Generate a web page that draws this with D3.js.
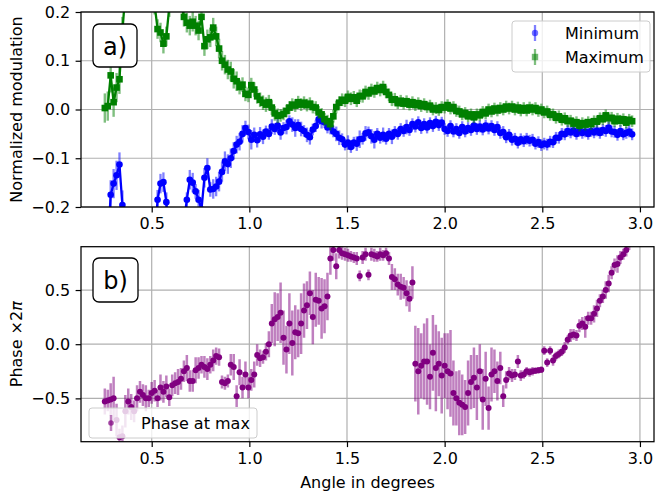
<!DOCTYPE html>
<html><head><meta charset="utf-8">
<script src="https://cdn.jsdelivr.net/npm/d3@7"></script>
<style>body{margin:0;background:#fff}svg{display:block}text{font-family:"DejaVu Sans",sans-serif}</style>
</head><body><svg id="c" width="655" height="494"></svg>
<script>
const angle = [0.26,0.275,0.29,0.305,0.32,0.335,0.35,0.365,0.38,0.395,
0.41,0.425,0.44,0.455,0.47,0.485,0.5,0.515,0.53,0.545,
0.56,0.575,0.59,0.605,0.62,0.635,0.65,0.665,0.68,0.695,
0.71,0.725,0.74,0.755,0.77,0.785,0.8,0.815,0.83,0.845,
0.86,0.875,0.89,0.905,0.92,0.935,0.95,0.965,0.98,0.995,
1.01,1.025,1.04,1.055,1.07,1.085,1.1,1.115,1.13,1.145,
1.16,1.175,1.19,1.205,1.22,1.235,1.25,1.265,1.28,1.295,
1.31,1.325,1.34,1.355,1.37,1.385,1.4,1.415,1.43,1.445,
1.46,1.475,1.49,1.505,1.52,1.535,1.55,1.565,1.58,1.595,
1.61,1.625,1.64,1.655,1.67,1.685,1.7,1.715,1.73,1.745,
1.76,1.775,1.79,1.805,1.82,1.835,1.85,1.865,1.88,1.895,
1.91,1.925,1.94,1.955,1.97,1.985,2.0,2.015,2.03,2.045,
2.06,2.075,2.09,2.105,2.12,2.135,2.15,2.165,2.18,2.195,
2.21,2.225,2.24,2.255,2.27,2.285,2.3,2.315,2.33,2.345,
2.36,2.375,2.39,2.405,2.42,2.435,2.45,2.465,2.48,2.495,
2.51,2.525,2.54,2.555,2.57,2.585,2.6,2.615,2.63,2.645,
2.66,2.675,2.69,2.705,2.72,2.735,2.75,2.765,2.78,2.795,
2.81,2.825,2.84,2.855,2.87,2.885,2.9,2.915,2.93,2.945,
2.96];

const minimumVal = [-0.3,-0.28,-0.175,-0.152,-0.135,-0.113,-0.196,-0.32,-0.35,-0.4,
-0.38,-0.42,-0.36,-0.4,-0.37,-0.33,-0.3,-0.28,-0.185,-0.152,
-0.149,-0.19,-0.27,-0.32,-0.3,-0.28,-0.26,-0.23,-0.185,-0.144,
-0.15,-0.168,-0.185,-0.205,-0.14,-0.12,-0.164,-0.163,-0.158,-0.148,
-0.128,-0.106,-0.112,-0.1,-0.085,-0.072,-0.066,-0.05,-0.038,-0.046,
-0.062,-0.052,-0.063,-0.051,-0.056,-0.045,-0.05,-0.035,-0.04,-0.033,
-0.047,-0.038,-0.036,-0.024,-0.031,-0.038,-0.032,-0.04,-0.044,-0.052,
-0.057,-0.041,-0.034,-0.02,-0.024,-0.026,-0.037,-0.036,-0.045,-0.05,
-0.058,-0.061,-0.072,-0.068,-0.077,-0.068,-0.07,-0.061,-0.06,-0.049,
-0.047,-0.055,-0.062,-0.05,-0.058,-0.052,-0.06,-0.05,-0.056,-0.046,
-0.05,-0.04,-0.044,-0.036,-0.042,-0.03,-0.035,-0.026,-0.038,-0.03,
-0.037,-0.028,-0.034,-0.025,-0.032,-0.027,-0.04,-0.044,-0.034,-0.045,
-0.04,-0.048,-0.036,-0.045,-0.038,-0.042,-0.033,-0.04,-0.035,-0.041,
-0.033,-0.039,-0.034,-0.042,-0.036,-0.048,-0.046,-0.057,-0.052,-0.062,
-0.06,-0.068,-0.061,-0.065,-0.06,-0.064,-0.062,-0.07,-0.067,-0.073,
-0.07,-0.072,-0.066,-0.067,-0.058,-0.058,-0.05,-0.051,-0.044,-0.047,
-0.043,-0.05,-0.044,-0.048,-0.045,-0.05,-0.044,-0.047,-0.043,-0.048,
-0.042,-0.044,-0.037,-0.045,-0.046,-0.052,-0.044,-0.051,-0.048,-0.045,
-0.051];
const minimumErr = [0.03,0.03,0.03,0.03,0.03,0.025,0.03,0.03,0.03,0.03,
0.03,0.03,0.03,0.03,0.03,0.03,0.03,0.03,0.02,0.02,
0.02,0.02,0.03,0.03,0.03,0.03,0.03,0.03,0.015,0.02,
0.02,0.015,0.02,0.02,0.02,0.02,0.015,0.02,0.02,0.02,
0.02,0.02,0.02,0.02,0.018,0.018,0.018,0.018,0.015,0.015,
0.02,0.015,0.015,0.015,0.015,0.012,0.012,0.015,0.012,0.015,
0.015,0.012,0.015,0.012,0.015,0.018,0.012,0.015,0.012,0.015,
0.015,0.012,0.012,0.012,0.015,0.012,0.012,0.015,0.012,0.015,
0.015,0.012,0.012,0.015,0.012,0.012,0.015,0.018,0.012,0.015,
0.012,0.015,0.018,0.012,0.012,0.015,0.012,0.012,0.015,0.012,
0.012,0.012,0.012,0.015,0.012,0.012,0.012,0.012,0.012,0.012,
0.012,0.012,0.012,0.012,0.012,0.012,0.012,0.012,0.012,0.012,
0.012,0.012,0.012,0.012,0.012,0.012,0.012,0.012,0.012,0.012,
0.012,0.012,0.012,0.012,0.012,0.012,0.012,0.012,0.012,0.012,
0.012,0.012,0.012,0.012,0.012,0.012,0.012,0.012,0.012,0.012,
0.012,0.012,0.012,0.012,0.012,0.012,0.012,0.012,0.012,0.012,
0.012,0.012,0.012,0.012,0.012,0.012,0.012,0.012,0.012,0.012,
0.012,0.012,0.012,0.012,0.012,0.012,0.012,0.012,0.012,0.012,
0.012];

const maximumVal = [0.003,0.007,0.07,0.015,0.045,0.062,0.16,0.24,0.28,0.3,
0.32,0.3,0.33,0.31,0.29,0.27,0.26,0.215,0.165,0.158,
0.135,0.15,0.21,0.26,0.28,0.25,0.22,0.19,0.178,0.172,
0.18,0.172,0.162,0.19,0.13,0.144,0.148,0.168,0.15,0.125,
0.1,0.092,0.082,0.078,0.063,0.058,0.046,0.051,0.032,0.03,
0.05,0.041,0.027,0.02,0.014,0.01,0.015,0.004,-0.008,-0.013,
-0.012,-0.009,-0.003,0.004,0.01,0.008,0.015,0.01,0.014,0.009,
0.012,0.005,0.004,-0.006,-0.01,-0.02,-0.024,-0.03,-0.014,0.005,
0.014,0.02,0.018,0.026,0.022,0.025,0.018,0.028,0.027,0.036,
0.033,0.04,0.037,0.044,0.04,0.046,0.036,0.03,0.02,0.021,
0.013,0.018,0.012,0.017,0.01,0.015,0.009,0.013,0.007,0.011,
0.005,0.008,0.0,0.003,-0.001,0.005,0.004,0.009,0.002,0.005,
-0.003,-0.004,-0.01,-0.007,-0.014,-0.01,-0.016,-0.01,-0.012,-0.005,
-0.008,0.0,-0.004,0.002,-0.002,0.003,0.0,0.006,0.002,0.006,
0.0,0.004,-0.002,0.003,-0.002,0.004,0.0,0.003,-0.003,0.0,
-0.006,-0.004,-0.011,-0.01,-0.017,-0.014,-0.021,-0.018,-0.024,-0.023,
-0.029,-0.026,-0.033,-0.028,-0.031,-0.026,-0.03,-0.024,-0.025,-0.018,
-0.02,-0.012,-0.018,-0.017,-0.024,-0.019,-0.023,-0.02,-0.027,-0.021,
-0.024];
const maximumErr = [0.03,0.03,0.035,0.03,0.03,0.03,0.03,0.03,0.03,0.03,
0.03,0.03,0.03,0.03,0.03,0.03,0.02,0.02,0.02,0.02,
0.02,0.02,0.02,0.02,0.02,0.02,0.02,0.02,0.02,0.02,
0.02,0.02,0.02,0.02,0.02,0.02,0.02,0.02,0.02,0.02,
0.02,0.02,0.02,0.02,0.02,0.02,0.015,0.015,0.015,0.015,
0.015,0.015,0.015,0.015,0.015,0.015,0.015,0.015,0.015,0.015,
0.013,0.013,0.013,0.013,0.013,0.013,0.013,0.013,0.013,0.013,
0.013,0.013,0.013,0.013,0.013,0.013,0.013,0.013,0.013,0.013,
0.013,0.013,0.013,0.013,0.013,0.013,0.013,0.013,0.013,0.013,
0.013,0.013,0.013,0.013,0.013,0.013,0.013,0.013,0.013,0.013,
0.012,0.012,0.012,0.012,0.012,0.012,0.012,0.012,0.012,0.012,
0.012,0.012,0.012,0.012,0.012,0.012,0.012,0.012,0.012,0.012,
0.012,0.012,0.012,0.012,0.012,0.012,0.012,0.012,0.012,0.012,
0.012,0.012,0.012,0.012,0.012,0.012,0.012,0.012,0.012,0.012,
0.012,0.012,0.012,0.012,0.012,0.012,0.012,0.012,0.012,0.012,
0.012,0.012,0.012,0.012,0.012,0.012,0.012,0.012,0.012,0.012,
0.012,0.012,0.012,0.012,0.012,0.012,0.012,0.012,0.012,0.012,
0.012,0.012,0.012,0.012,0.012,0.012,0.012,0.012,0.012,0.012,
0.012];

const phaseVal = [-0.53,-0.52,-0.51,-0.5,-0.7,-0.86,-0.85,-0.62,-0.53,-0.58,
-0.62,-0.5,-0.44,-0.47,-0.5,-0.5,-0.45,-0.43,-0.5,-0.4,
-0.44,-0.39,-0.49,-0.38,-0.36,-0.35,-0.32,-0.25,-0.22,-0.34,
-0.34,-0.24,-0.22,-0.19,-0.21,-0.23,-0.19,-0.15,-0.11,-0.12,
-0.35,-0.36,-0.34,-0.19,-0.21,-0.48,-0.26,-0.4,-0.28,-0.4,
-0.33,-0.28,-0.1,-0.13,-0.12,-0.07,0.0,0.19,0.23,0.25,
0.29,0.06,-0.05,0.19,0.01,0.11,0.1,0.19,0.31,0.36,
0.47,0.25,0.41,0.4,0.33,0.35,0.44,0.79,0.87,0.72,
0.87,0.84,0.83,0.82,0.81,0.8,0.79,0.63,0.8,0.83,
0.64,0.83,0.82,0.81,0.83,0.82,0.84,0.79,0.62,0.6,
0.55,0.53,0.52,0.47,0.42,0.57,-0.18,-0.25,-0.2,-0.16,
-0.16,-0.3,-0.08,-0.22,-0.18,-0.29,-0.2,-0.25,-0.27,-0.45,
-0.5,-0.54,-0.56,-0.58,-0.45,-0.35,-0.31,-0.4,-0.25,-0.51,
-0.32,-0.59,-0.28,-0.25,-0.34,-0.22,-0.48,-0.33,-0.27,-0.29,
-0.28,-0.16,-0.29,-0.28,-0.25,-0.26,-0.25,-0.245,-0.24,-0.235,
-0.06,-0.17,-0.06,-0.15,-0.11,-0.09,-0.07,-0.03,0.04,0.08,
0.09,0.08,0.17,0.19,0.16,0.24,0.24,0.28,0.33,0.4,
0.44,0.5,0.56,0.66,0.73,0.74,0.8,0.83,0.87,0.93,
0.97];
const phaseErr = [0.12,0.1,0.15,0.2,0.15,0.08,0.1,0.15,0.12,0.12,
0.1,0.12,0.1,0.1,0.12,0.08,0.1,0.1,0.08,0.12,
0.1,0.1,0.08,0.1,0.1,0.12,0.1,0.1,0.12,0.1,
0.1,0.12,0.1,0.08,0.1,0.1,0.08,0.1,0.08,0.08,
0.06,0.06,0.06,0.1,0.12,0.1,0.12,0.1,0.12,0.1,
0.1,0.12,0.1,0.08,0.06,0.08,0.12,0.18,0.25,0.22,
0.28,0.25,0.22,0.28,0.3,0.25,0.22,0.28,0.25,0.22,
0.2,0.25,0.25,0.22,0.28,0.25,0.22,0.15,0.1,0.12,
0.08,0.06,0.06,0.06,0.05,0.05,0.06,0.05,0.06,0.06,
0.05,0.06,0.06,0.05,0.06,0.05,0.05,0.06,0.12,0.1,
0.1,0.12,0.1,0.12,0.12,0.15,0.35,0.4,0.3,0.35,
0.4,0.3,0.35,0.4,0.3,0.35,0.3,0.35,0.4,0.3,
0.25,0.3,0.28,0.25,0.3,0.25,0.28,0.3,0.25,0.28,
0.25,0.2,0.25,0.2,0.18,0.15,0.1,0.08,0.06,0.06,
0.05,0.06,0.05,0.04,0.04,0.04,0.04,0.03,0.03,0.03,
0.04,0.04,0.04,0.05,0.04,0.04,0.04,0.05,0.04,0.06,
0.05,0.05,0.06,0.06,0.1,0.06,0.06,0.08,0.08,0.06,
0.06,0.08,0.08,0.06,0.06,0.08,0.06,0.05,0.06,0.06,
0.06];

const xTicks = [0.5, 1.0, 1.5, 2.0, 2.5, 3.0];
const yTicksTop = [-0.2, -0.1, 0.0, 0.1, 0.2];
const yTicksBottom = [-0.5, 0.0, 0.5];

const L = 81, R = 654;
const T1 = 12, B1 = 207, T2 = 246.7, B2 = 441.7;
const FS = 16;

const svg = d3.select('#c');
const defs = svg.append('defs');
const x = d3.scaleLinear().domain([0.138, 3.072]).range([L, R]);
const y1 = d3.scaleLinear().domain([-0.2, 0.2]).range([B1, T1]);
const y2 = d3.scaleLinear().domain([-0.9, 0.9]).range([B2, T2]);
const fmt = d3.format('.1f');

function clip(id, t, b) {
  defs.append('clipPath').attr('id', id).append('rect')
    .attr('x', L).attr('y', t).attr('width', R - L).attr('height', b - t);
}
clip('c1', T1, B1); clip('c2', T2, B2);

function grid(ys, yTicks, t, b) {
  const g = svg.append('g').attr('stroke', '#b0b0b0').attr('stroke-width', 1.2);
  g.selectAll('line.gx').data(xTicks).join('line').attr('class', 'gx')
    .attr('x1', d => x(d)).attr('x2', d => x(d)).attr('y1', t).attr('y2', b);
  g.selectAll('line.gy').data(yTicks).join('line').attr('class', 'gy')
    .attr('x1', L).attr('x2', R).attr('y1', d => ys(d)).attr('y2', d => ys(d));
}
function axes(ys, yTicks, t, b) {
  const gx = svg.append('g').attr('transform', `translate(0,${b})`)
    .call(d3.axisBottom(x).tickValues(xTicks).tickFormat(fmt).tickSize(5.4).tickPadding(5.4));
  const gy = svg.append('g').attr('transform', `translate(${L},0)`)
    .call(d3.axisLeft(ys).tickValues(yTicks).tickFormat(fmt).tickSize(5.4).tickPadding(5.4));
  [gx, gy].forEach(g => {
    g.select('.domain').remove();
    g.selectAll('.tick line').attr('stroke', '#000').attr('stroke-width', 1.2);
    g.selectAll('.tick text').attr('fill', '#000').style('font-size', FS + 'px')
      .style('font-family', '"DejaVu Sans", sans-serif');
  });
  svg.append('rect').attr('x', L).attr('y', t).attr('width', R - L).attr('height', b - t)
    .attr('fill', 'none').attr('stroke', '#000').attr('stroke-width', 1.25);
}
function errorbars(g, ys, vals, errs, color, w) {
  g.append('g').attr('stroke', color).attr('stroke-opacity', 0.5).attr('stroke-width', w)
    .selectAll('line').data(angle).join('line')
    .attr('x1', d => x(d)).attr('x2', d => x(d))
    .attr('y1', (d, i) => ys(vals[i] - errs[i])).attr('y2', (d, i) => ys(vals[i] + errs[i]));
}

// ---------- panel a ----------
grid(y1, yTicksTop, T1, B1);
const pa = svg.append('g').attr('clip-path', 'url(#c1)');
const lineA = vals => d3.line().x((d, i) => x(angle[i])).y((d, i) => y1(vals[i]))(angle);
errorbars(pa, y1, minimumVal, minimumErr, '#0000ff', 2.3);
pa.append('path').attr('d', lineA(minimumVal)).attr('fill', 'none').attr('stroke', '#0000ff').attr('stroke-width', 2.3);
pa.append('g').attr('fill', '#0000ff').selectAll('circle').data(angle).join('circle')
  .attr('cx', d => x(d)).attr('cy', (d, i) => y1(minimumVal[i])).attr('r', 3.3);
errorbars(pa, y1, maximumVal, maximumErr, '#008000', 2.4);
pa.append('path').attr('d', lineA(maximumVal)).attr('fill', 'none').attr('stroke', '#008000').attr('stroke-width', 2.3);
pa.append('g').attr('fill', '#008000').selectAll('rect').data(angle).join('rect')
  .attr('x', d => x(d) - 3.3).attr('y', (d, i) => y1(maximumVal[i]) - 3.3).attr('width', 6.6).attr('height', 6.6);
axes(y1, yTicksTop, T1, B1);

// ---------- panel b ----------
grid(y2, yTicksBottom, T2, B2);
const pb = svg.append('g').attr('clip-path', 'url(#c2)');
errorbars(pb, y2, phaseVal, phaseErr, '#800080', 2.5);
pb.append('g').attr('fill', '#800080').selectAll('circle').data(angle).join('circle')
  .attr('cx', d => x(d)).attr('cy', (d, i) => y2(phaseVal[i])).attr('r', 3);
axes(y2, yTicksBottom, T2, B2);

// labels
svg.append('text').attr('transform', `translate(16,${(T1 + B1) / 2}) rotate(-90)`)
  .attr('text-anchor', 'middle').attr('dominant-baseline', 'central').style('font-size', FS + 'px')
  .text('Normalized modulation');
const pl = svg.append('text').attr('transform', `translate(16,${(T2 + B2) / 2}) rotate(-90)`)
  .attr('text-anchor', 'middle').attr('dominant-baseline', 'central').style('font-size', FS + 'px');
pl.append('tspan').text('Phase \u00d72');
pl.append('tspan').attr('font-style', 'italic').text('\u03c0');
svg.append('text').attr('x', (L + R) / 2).attr('y', 482).attr('text-anchor', 'middle')
  .attr('dominant-baseline', 'central').style('font-size', FS + 'px').text('Angle in degrees');

// panel tags
function tag(bx, by, w, h, s) {
  svg.append('rect').attr('x', bx).attr('y', by).attr('width', w).attr('height', h).attr('rx', 6)
    .attr('fill', '#fff').attr('stroke', '#000').attr('stroke-width', 1.3);
  svg.append('text').attr('x', bx + w / 2).attr('y', by + h / 2 + 1).attr('text-anchor', 'middle')
    .attr('dominant-baseline', 'central').style('font-size', '24px').text(s);
}
tag(93, 24, 44, 43, 'a)');
tag(93, 258, 45, 44, 'b)');

// legends
function legendBox(bx, by, w, h) {
  svg.append('rect').attr('x', bx).attr('y', by).attr('width', w).attr('height', h).attr('rx', 3)
    .attr('fill', '#fff').attr('fill-opacity', 0.8).attr('stroke', '#cccccc').attr('stroke-width', 1);
}
function legText(tx, ty, s) {
  svg.append('text').attr('x', tx).attr('y', ty).attr('dominant-baseline', 'central')
    .style('font-size', FS + 'px').text(s);
}
legendBox(512, 21, 138, 51);
svg.append('line').attr('x1', 535).attr('x2', 535).attr('y1', 25).attr('y2', 41)
  .attr('stroke', '#0000ff').attr('stroke-opacity', 0.5).attr('stroke-width', 2.3);
svg.append('circle').attr('cx', 535).attr('cy', 33).attr('r', 3.2).attr('fill', '#0000ff').attr('fill-opacity', 0.55);
legText(565, 33, 'Minimum');
svg.append('line').attr('x1', 535).attr('x2', 535).attr('y1', 49).attr('y2', 65)
  .attr('stroke', '#008000').attr('stroke-opacity', 0.5).attr('stroke-width', 2.3);
svg.append('rect').attr('x', 531.8).attr('y', 53.8).attr('width', 6.4).attr('height', 6.4).attr('fill', '#008000').attr('fill-opacity', 0.55);
legText(565, 57, 'Maximum');

legendBox(89, 408, 168, 30);
svg.append('line').attr('x1', 111).attr('x2', 111).attr('y1', 415).attr('y2', 431)
  .attr('stroke', '#800080').attr('stroke-opacity', 0.5).attr('stroke-width', 2.5);
svg.append('circle').attr('cx', 111).attr('cy', 423).attr('r', 2.8).attr('fill', '#800080').attr('fill-opacity', 0.7);
legText(141, 423, 'Phase at max');
</script></body></html>
